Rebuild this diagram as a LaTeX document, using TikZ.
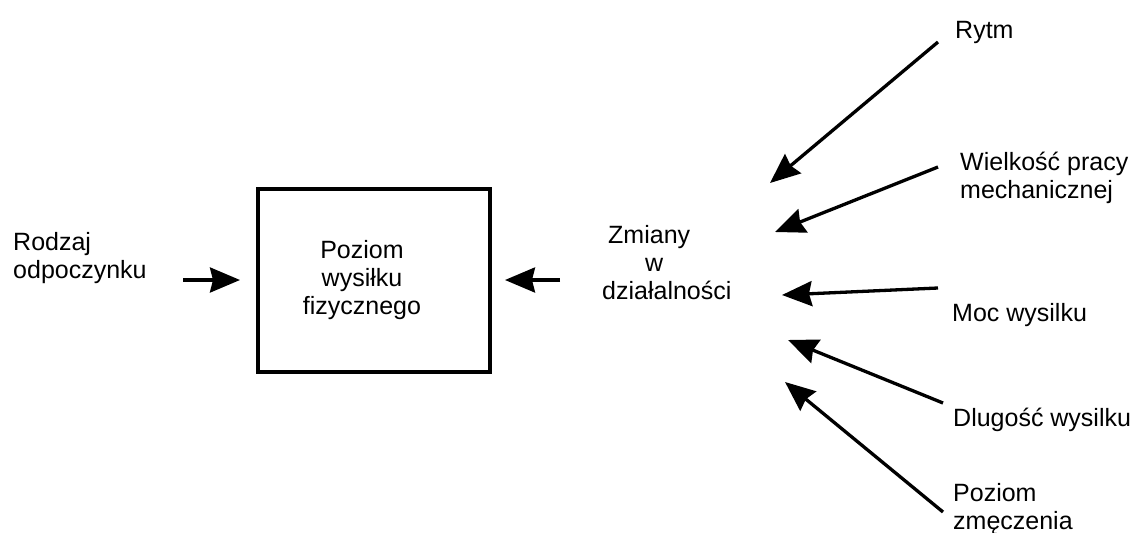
\documentclass[tikz,border=0pt]{standalone}
\usepackage{fontspec}
\setmainfont{Liberation Sans}
\usetikzlibrary{arrows.meta}
\begin{document}
\begin{tikzpicture}[x=1pt,y=-1pt,
  lbl/.style={inner sep=0pt, anchor=north west, align=left, font=\fontsize{25}{28}\selectfont},
  arr/.style={line width=3.3pt, -{Stealth[length=30pt,width=25pt,inset=3pt]}},
  boxnode/.style={draw, line width=4pt, minimum width=232pt, minimum height=183pt, inner sep=0pt}]
\useasboundingbox[fill=white] (0,0) rectangle (1136,533);
% nodes
\node[boxnode] (box) at (374,280) {};
\node[inner sep=0pt, align=center, font=\fontsize{25}{28}\selectfont] (boxtext) at (362,280) {Poziom\\wysiłku\\fizycznego};
\node[lbl] (rodzaj) at (13,232) {Rodzaj\\odpoczynku};
\node[lbl] (zmiany) at (602,225) {\hspace*{6pt}Zmiany\\\hspace*{43pt}w\\działalności};
\node[lbl] (rytm) at (955,21) {Rytm};
\node[lbl] (wielkosc) at (960,152) {Wielkość pracy\\mechanicznej};
\node[lbl] (moc) at (952,303) {Moc wysilku};
\node[lbl] (dlugosc) at (953,408) {Dlugość wysilku};
\node[lbl] (poziom) at (953,483) {Poziom\\zmęczenia};
% connector ends
\coordinate (rodzajtip) at ([xshift=-16pt]box.west);
\coordinate (rodzajtail) at ([xshift=-73pt]box.west);
\coordinate (zmianytip) at ([xshift=13pt]box.east);
\coordinate (zmianytail) at ([xshift=68pt]box.east);
\coordinate (rytmtail) at (938,42);
\coordinate (rytmtip) at (770,183);
\coordinate (wielktail) at (938,167);
\coordinate (wielktip) at (775,232);
\coordinate (moctail) at (938,288);
\coordinate (moctip) at (782,295);
\coordinate (dlugtail) at (943,403);
\coordinate (dlugtip) at (788,340);
\coordinate (poztail) at (943,512);
\coordinate (poztip) at (785,382);
% connectors
\draw[arr] (rodzajtail) -- (rodzajtip);
\draw[arr] (zmianytail) -- (zmianytip);
\draw[arr] (rytmtail) -- (rytmtip);
\draw[arr] (wielktail) -- (wielktip);
\draw[arr] (moctail) -- (moctip);
\draw[arr] (dlugtail) -- (dlugtip);
\draw[arr] (poztail) -- (poztip);
\end{tikzpicture}
\end{document}
